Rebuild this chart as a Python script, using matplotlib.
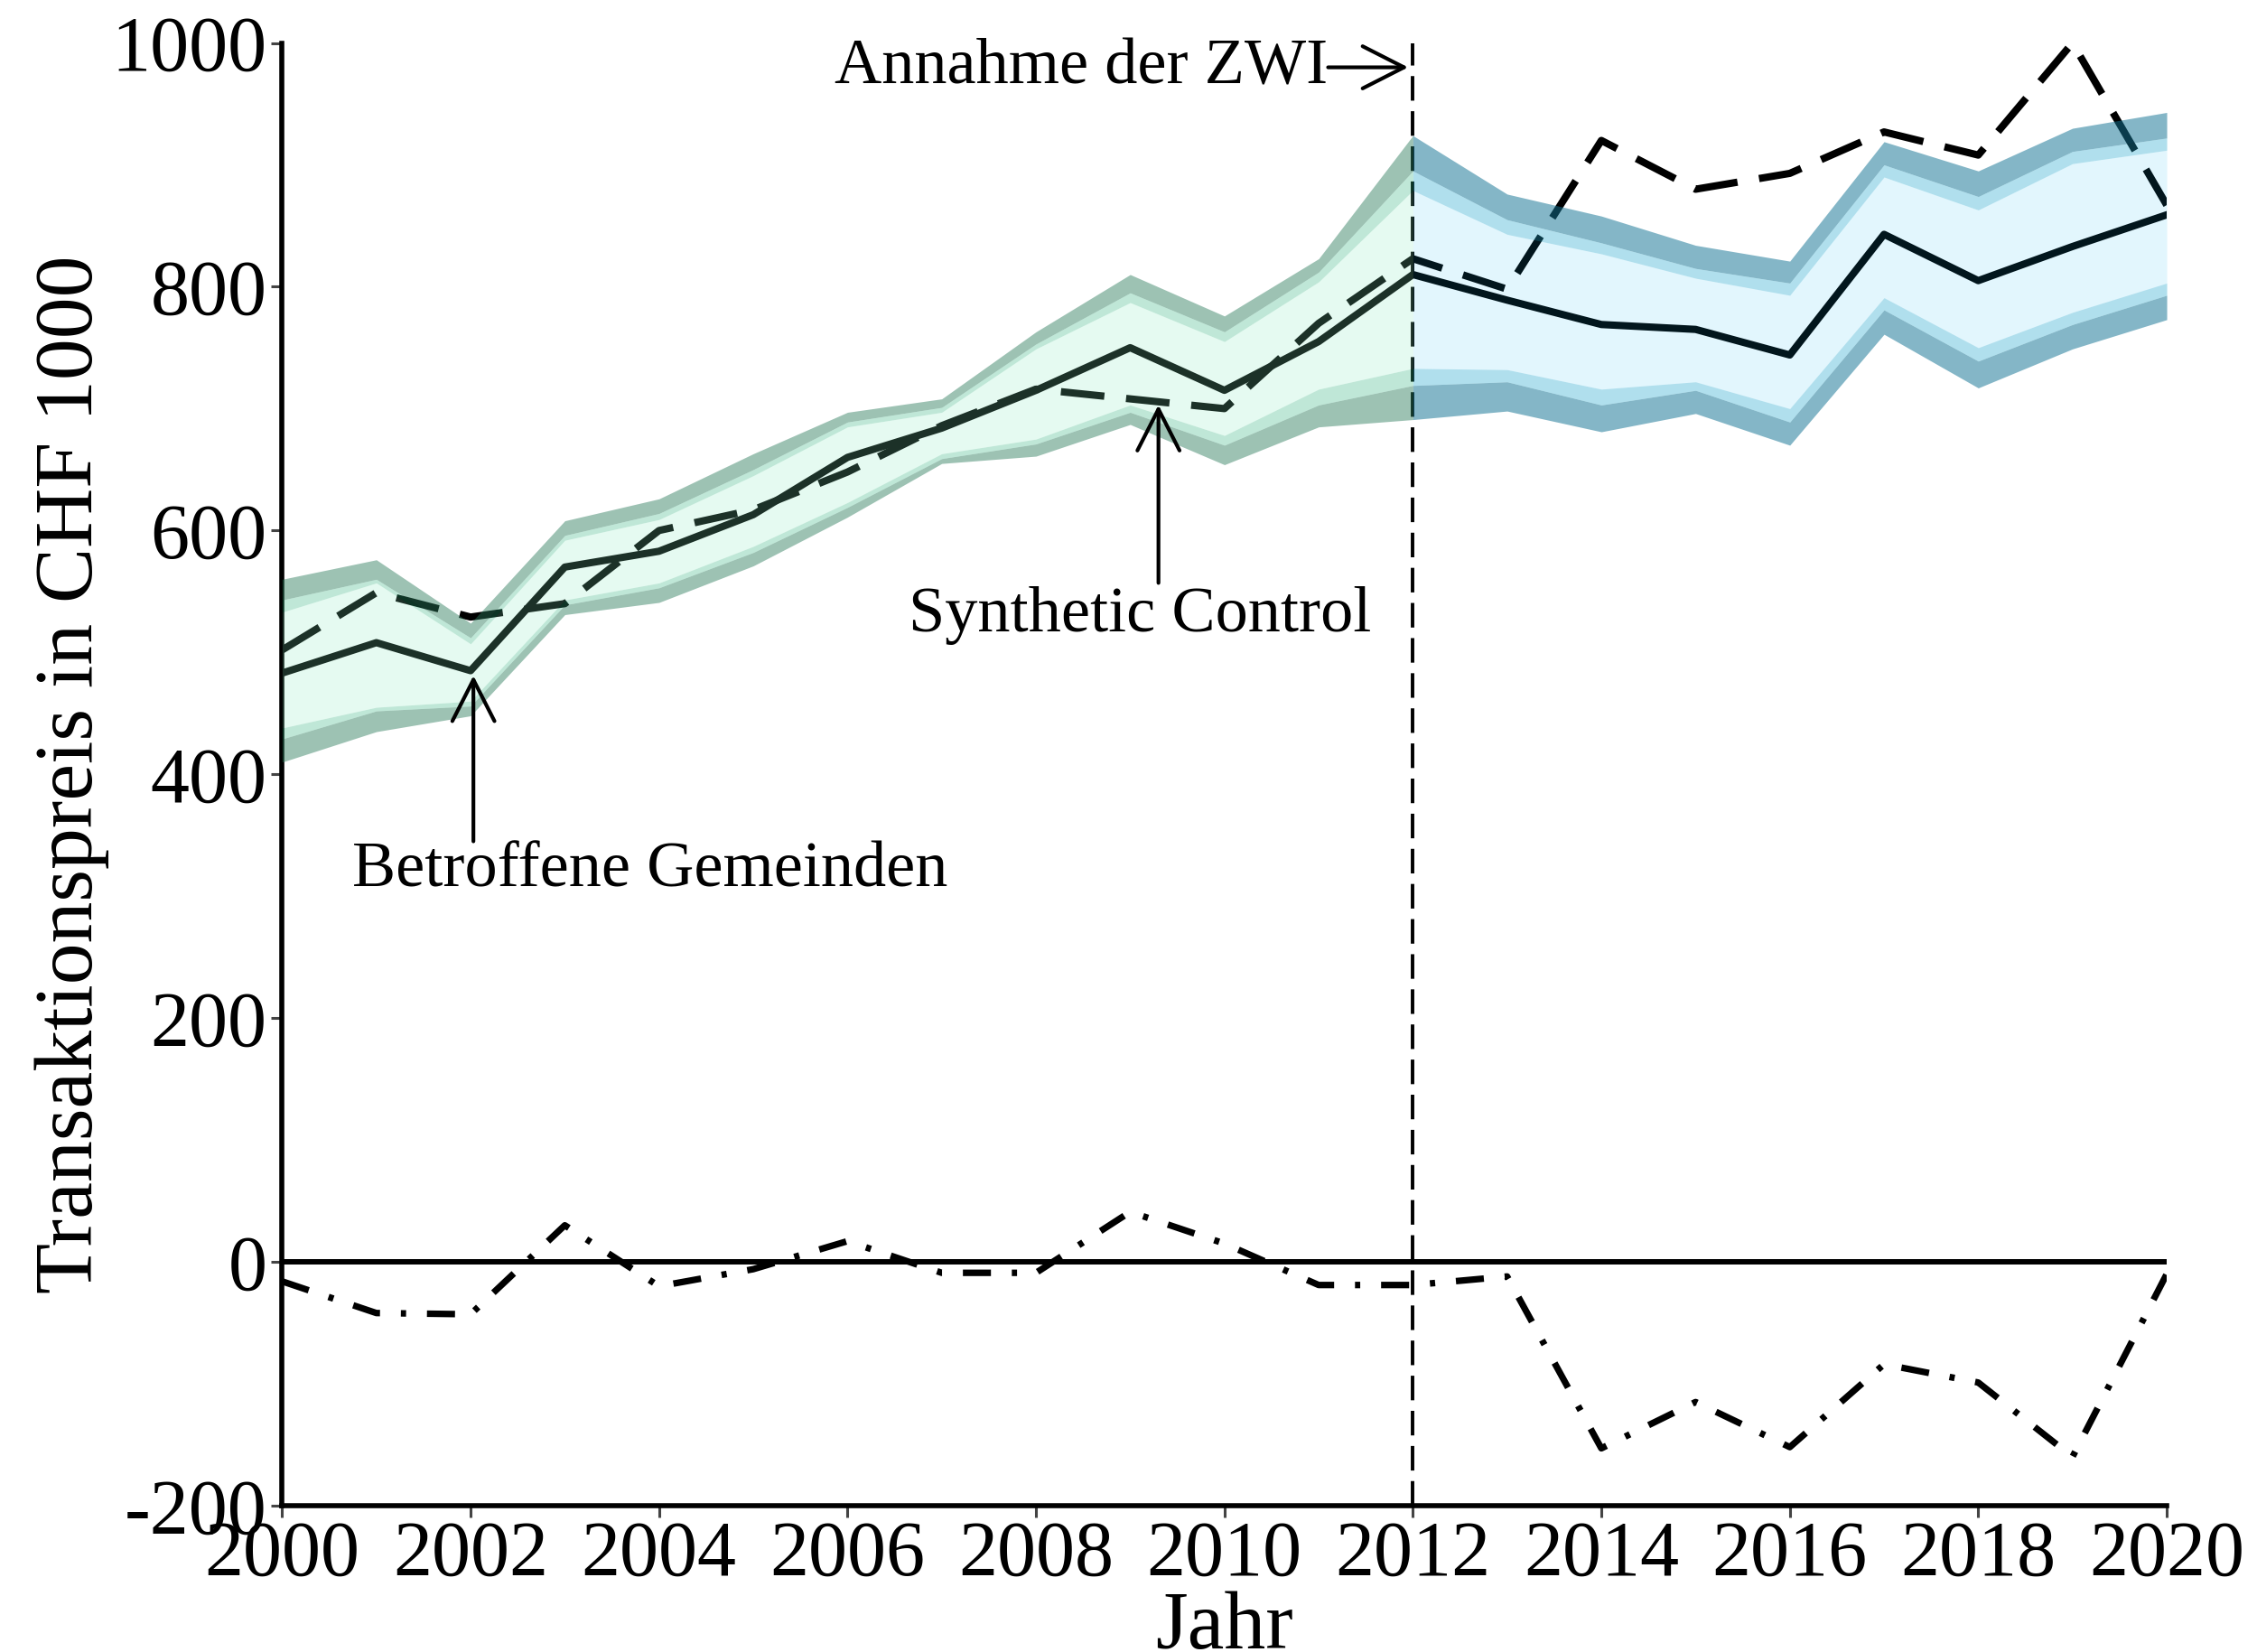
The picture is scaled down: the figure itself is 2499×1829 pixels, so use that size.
import numpy as np
import matplotlib
matplotlib.use("Agg")
import matplotlib.pyplot as plt

plt.rcParams['font.family'] = ['Liberation Serif', 'DejaVu Serif']
plt.rcParams['axes.unicode_minus'] = False

years = np.arange(2000, 2021)
# Transaktionspreis (CHF 1000)
treated = [483, 508, 485, 570, 583, 613, 660, 684, 715, 750, 715, 755, 810,
           789, 769, 765, 744, 843, 805, 833, 859]
synthetic = [502, 549, 529, 540, 600, 617, 648, 686, 716, 708, 700, 770, 823,
             798, 920, 880, 893, 927, 908, 1000, 867]
gap = [-16, -42, -43, 30, -20, -6, 17, -9, -9, 41, 15, -19, -19,
       -12, -153, -115, -152, -84, -99, -160, -10]

# Bandgrenzen (aussen / mitte / innen)
hi_out = [560, 576, 524, 608, 626, 663, 697, 708, 763, 810, 776, 823, 924,
          876, 858, 834, 821, 919, 895, 930, 943]
hi_mid = [543, 560, 512, 596, 614, 650, 689, 701, 753, 795, 763, 812, 895,
          855, 836, 815, 803, 900, 874, 911, 922]
hi_in = [533, 557, 507, 592, 609, 645, 685, 697, 749, 787, 755, 804, 879,
         843, 827, 807, 793, 890, 863, 901, 912]
lo_in = [438, 455, 460, 543, 557, 587, 623, 663, 675, 703, 678, 716, 733,
         732, 716, 722, 700, 791, 750, 779, 803]
lo_mid = [429, 452, 456, 539, 553, 582, 619, 659, 671, 697, 670, 703, 719,
          722, 703, 715, 689, 781, 739, 769, 793]
lo_out = [410, 435, 448, 531, 541, 571, 611, 655, 661, 687, 654, 685, 691,
          698, 681, 696, 670, 761, 717, 749, 773]

treatment_year = 2012

fig = plt.figure(figsize=(24.99, 18.29), dpi=100)
ax = fig.add_axes([0.125, 0.0886, 0.835, 0.8854])

# lines first (fills are drawn on top, semi-transparent)
ax.plot(years, treated, color='black', lw=5.8, zorder=2)
ax.plot(years, synthetic, color='black', lw=5.8, dashes=(6, 3), zorder=2)
ax.plot(years, gap, color='black', lw=5.2, dashes=(4.3, 3.2, 0.8, 3.2), zorder=2)
ax.axhline(0, color='black', lw=4.3, zorder=2)
ax.axvline(treatment_year, color='black', lw=2.8, dashes=(7, 3), zorder=2)


def bands(mask, c_out, a_out, c_mid, a_mid, c_in, a_in):
    x = years[mask]
    g = lambda arr: np.array(arr)[mask]
    ax.fill_between(x, g(hi_mid), g(hi_out), color=c_out, alpha=a_out, lw=0, zorder=3)
    ax.fill_between(x, g(lo_out), g(lo_mid), color=c_out, alpha=a_out, lw=0, zorder=3)
    ax.fill_between(x, g(hi_in), g(hi_mid), color=c_mid, alpha=a_mid, lw=0, zorder=3)
    ax.fill_between(x, g(lo_mid), g(lo_in), color=c_mid, alpha=a_mid, lw=0, zorder=3)
    ax.fill_between(x, g(lo_in), g(hi_in), color=c_in, alpha=a_in, lw=0, zorder=3)


bands(years <= treatment_year, '#2a7a5b', 0.46, '#2db27d', 0.30, '#85e9be', 0.21)
bands(years >= treatment_year, '#147494', 0.52, '#1da6ce', 0.35, '#11b7f2', 0.12)

# annotations
arrow = dict(arrowstyle='->,head_length=0.55,head_width=0.28', lw=3.0,
             color='black', mutation_scale=60, shrinkA=0, shrinkB=0)
ax.annotate('', xy=(2011.95, 980), xytext=(2011.1, 980), arrowprops=arrow, zorder=5)
ax.text(2011.1, 980, 'Annahme der ZWI', fontsize=52, ha='right', va='center')

ax.annotate('', xy=(2009.3, 703), xytext=(2009.3, 557), arrowprops=arrow, zorder=5)
ax.text(2009.1, 530, 'Synthetic Control', fontsize=52, ha='center', va='center')

ax.annotate('', xy=(2002.03, 481), xytext=(2002.03, 345), arrowprops=arrow, zorder=5)
ax.text(2003.9, 321, 'Betroffene Gemeinden', fontsize=52, ha='center', va='center')

ax.set_xlim(2000, 2020)
ax.set_ylim(-200, 1000)
ax.set_xticks(np.arange(2000, 2021, 2))
ax.set_yticks(np.arange(-200, 1001, 200))

for s in ['top', 'right']:
    ax.spines[s].set_visible(False)
for s in ['left', 'bottom']:
    ax.spines[s].set_linewidth(4.0)
ax.tick_params(direction='out', length=9, width=2.2, color='#444444',
               labelsize=62, pad=3)

ax.set_xlabel('Jahr', fontsize=66, labelpad=-1)
ax.set_ylabel('Transaktionspreis in CHF 1000', fontsize=66, labelpad=2)

fig.savefig('out.png', dpi=100)
